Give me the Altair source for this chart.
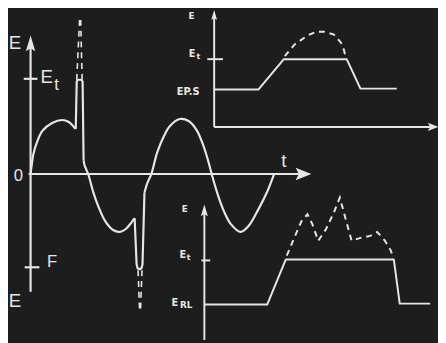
import altair as alt
import pandas as pd

W, H = 438, 335
BG = "#1d1d1d"
INK = "#e6e6e6"
UP = "M0,-1L0.6,1L0,0.6L-0.6,1Z"
RIGHT = "M1,0L-1,-0.8L-0.6,0L-1,0.8Z"

# ---------------- main diagram: E versus t ----------------
hump1_t = [0, 0.1, 0.3, 0.6, 1.2, 2.2, 3.2, 3.9, 4.5, 4.6]
hump1_E = [0, 0.8, 2.1, 3.1, 4.4, 5.2, 5.5, 5.3, 4.7, 4.6]
fall_t = [5.4, 5.5, 5.7, 5.9, 6.4, 6.9, 7.6, 8.4, 9.1, 9.7, 10.3, 10.6]
fall_E = [1.4, 0.9, 0.4, -0.1, -1.9, -3.3, -4.8, -5.7, -5.9, -5.6, -4.9, -4.5]
wave_t = [11.6, 11.9, 12.3, 12.9, 13.6, 14.2, 15.2, 16.1, 16.9, 17.6, 18.1,
          18.5, 19.1, 19.7, 20.4, 21.4, 22.2, 23.2, 24.1, 24.8]
wave_E = [-1.9, -0.9, 0, 2.2, 3.9, 4.9, 5.6, 5.4, 4.5, 2.9, 1.3,
          -0.2, -2.2, -3.8, -5.1, -5.9, -5.3, -3.6, -1.8, 0]
spike_up_t = [4.6, 4.7, 4.8, 5.2, 5.3, 5.4]
spike_up_E = [4.6, 9.4, 9.6, 9.6, 9.4, 1.4]
spike_dn_t = [10.6, 10.8, 10.9, 11.1, 11.3, 11.4, 11.6]
spike_dn_E = [-4.5, -9.2, -9.6, -9.7, -9.6, -9.2, -1.9]
# dashed continuations of the spikes (id, t, E)
dash_id = ["a", "a", "b", "b", "c", "c", "d", "d"]
dash_t = [4.7, 5.0, 5.25, 5.1, 10.95, 11.1, 11.35, 11.2]
dash_E = [9.6, 15.9, 9.6, 15.9, -9.8, -13.8, -9.8, -13.8]
# axes and ticks
main_rule_t = [0, -0.2, -0.7, -0.6]
main_rule_E = [-12.0, 0, 9.7, -9.5]
main_rule_t2 = [0, 27.8, 0.7, 0.9]
main_rule_E2 = [13.3, 0, 9.7, -9.5]
main_arrow_t = [0, 27.8]
main_arrow_E = [13.3, 0]
main_arrow_shape = [UP, RIGHT]
main_arrow_size = [256, 256]
main_text = ["E", "E", "E", "t", "0", "F", "t"]
main_text_t = [-1.6, -1.6, 1.65, 2.65, -1.25, 2.2, 25.8]
main_text_E = [13.3, -12.9, 9.9, 9.1, -0.2, -9.0, 1.3]
main_text_size = [19, 19, 19, 17, 17, 17, 19]

# ---------------- upper inset (power supply) ----------------
ps_t = [0, 4.5, 7.1, 13.5, 14.9, 18.6]
ps_E = [3.8, 3.8, 6.9, 6.9, 3.9, 3.9]
ps_dash_t = [7.2, 8.2, 9.5, 10.4, 11.2, 12.2, 12.9, 13.2, 13.4]
ps_dash_E = [7.2, 8.4, 9.3, 9.7, 9.7, 9.4, 8.6, 7.9, 7.1]
ps_rule_t = [0, 0, -0.7]
ps_rule_E = [0, 0, 6.9]
ps_rule_t2 = [0, 22.3, 0.9]
ps_rule_E2 = [11.4, 0, 6.9]
ps_arrow_t = [0, 22.3]
ps_arrow_E = [11.4, 0]
ps_arrow_shape = [UP, RIGHT]
ps_arrow_size = [100, 110]
ps_text = ["E", "E", "t", "EP.S"]
ps_text_t = [-2.3, -2.25, -1.6, -2.65]
ps_text_E = [11.3, 7.4, 7.1, 3.5]
ps_text_size = [9, 10, 8, 10]

# ---------------- lower inset (load) ----------------
rl_t = [0, 6.4, 8.3, 19.3, 19.9, 23.0]
rl_E = [3.6, 3.6, 8.2, 8.2, 3.7, 3.7]
rl_dash_t = [8.4, 9.2, 9.9, 10.5, 11.0, 11.6, 12.4, 13.2, 13.8, 14.4,
             15.0, 15.9, 16.9, 17.6, 18.4, 19.0, 19.2]
rl_dash_E = [8.6, 10.5, 12.1, 12.8, 11.8, 10.1, 11.3, 13.0, 14.5, 12.3,
             10.1, 10.4, 10.6, 11.0, 10.1, 9.1, 8.5]
rl_rule_t = [0, -0.3]
rl_rule_E = [0, 8.1]
rl_rule_t2 = [0, 0.6]
rl_rule_E2 = [13.2, 8.1]
rl_arrow_t = [0]
rl_arrow_E = [13.2]
rl_arrow_shape = [UP]
rl_arrow_size = [144]
rl_text = ["E", "E", "t", "E", "RL"]
rl_text_t = [-2.0, -2.2, -1.6, -3.0, -1.85]
rl_text_E = [13.3, 8.6, 8.3, 3.75, 3.55]
rl_text_size = [9, 10, 8, 10, 9]


def line_df(*segs):
    rows = []
    for name, ts, es in segs:
        for i, (t, e) in enumerate(zip(ts, es)):
            rows.append({"seg": name, "i": i, "t": t, "E": e})
    return pd.DataFrame(rows)


def diagram(xdom, ydom, smooth, linear, dashed, rules, arrows, texts,
            font, weight, width, dash_width):
    X = lambda f: alt.X(f, type="quantitative", scale=alt.Scale(domain=xdom, nice=False, zero=False), axis=None)
    Y = lambda f: alt.Y(f, type="quantitative", scale=alt.Scale(domain=ydom, nice=False, zero=False), axis=None)
    layers = []
    if smooth is not None:
        layers.append(alt.Chart(smooth).mark_line(color=INK, strokeWidth=width, interpolate="catmull-rom").encode(
            x=X("t"), y=Y("E"), detail="seg:N", order="i:Q"))
    if linear is not None:
        layers.append(alt.Chart(linear).mark_line(color=INK, strokeWidth=width, strokeJoin="round").encode(
            x=X("t"), y=Y("E"), detail="seg:N", order="i:Q"))
    if dashed is not None:
        layers.append(alt.Chart(dashed).mark_line(color=INK, strokeWidth=dash_width, strokeDash=[6, 5]).encode(
            x=X("t"), y=Y("E"), detail="seg:N", order="i:Q"))
    layers.append(alt.Chart(rules).mark_rule(color=INK, strokeWidth=width).encode(
        x=X("t"), y=Y("E"), x2="t2:Q", y2="E2:Q"))
    layers.append(alt.Chart(arrows).mark_point(filled=True, color=INK, opacity=1, strokeWidth=0).encode(
        x=X("t"), y=Y("E"), shape=alt.Shape("shape:N", scale=None), size=alt.Size("size:Q", scale=None)))
    layers.append(alt.Chart(texts).mark_text(color=INK, font=font, fontWeight=weight, align="center",
                                               baseline="middle").encode(
        x=X("t"), y=Y("E"), text="label:N", size=alt.Size("fs:Q", scale=None)))
    return alt.layer(*layers)


main = diagram(
    [-2.3, 41.5], [-16.9, 16.6],
    line_df(("A", hump1_t, hump1_E), ("B", fall_t, fall_E), ("C", wave_t, wave_E)),
    line_df(("D", spike_up_t, spike_up_E), ("E", spike_dn_t, spike_dn_E)),
    line_df(*[(k, [t for d, t in zip(dash_id, dash_t) if d == k], [e for d, e in zip(dash_id, dash_E) if d == k])
              for k in ["a", "b", "c", "d"]]),
    pd.DataFrame({"t": main_rule_t, "E": main_rule_E, "t2": main_rule_t2, "E2": main_rule_E2}),
    pd.DataFrame({"t": main_arrow_t, "E": main_arrow_E, "shape": main_arrow_shape, "size": main_arrow_size}),
    pd.DataFrame({"t": main_text_t, "E": main_text_E, "label": main_text, "fs": main_text_size}),
    "Liberation Sans", "normal", 2.2, 1.6)

top = diagram(
    [-21.0, 22.8], [-21.7, 11.8],
    None,
    line_df(("ps", ps_t, ps_E)),
    line_df(("psd", ps_dash_t, ps_dash_E)),
    pd.DataFrame({"t": ps_rule_t, "E": ps_rule_E, "t2": ps_rule_t2, "E2": ps_rule_E2}),
    pd.DataFrame({"t": ps_arrow_t, "E": ps_arrow_E, "shape": ps_arrow_shape, "size": ps_arrow_size}),
    pd.DataFrame({"t": ps_text_t, "E": ps_text_E, "label": ps_text, "fs": ps_text_size}),
    "DejaVu Sans", "bold", 2, 2)

bottom = diagram(
    [-20.0, 23.8], [0, 33.5],
    None,
    line_df(("rl", rl_t, rl_E)),
    line_df(("rld", rl_dash_t, rl_dash_E)),
    pd.DataFrame({"t": rl_rule_t, "E": rl_rule_E, "t2": rl_rule_t2, "E2": rl_rule_E2}),
    pd.DataFrame({"t": rl_arrow_t, "E": rl_arrow_E, "shape": rl_arrow_shape, "size": rl_arrow_size}),
    pd.DataFrame({"t": rl_text_t, "E": rl_text_E, "label": rl_text, "fs": rl_text_size}),
    "DejaVu Sans", "bold", 2, 2)

chart = alt.layer(main, top, bottom).resolve_scale(x="independent", y="independent").properties(
    width=W, height=H, background=BG, padding=0, autosize="none"
).configure_view(stroke=None)

chart.save("out.html", embed_options={"renderer": "svg", "actions": False})
